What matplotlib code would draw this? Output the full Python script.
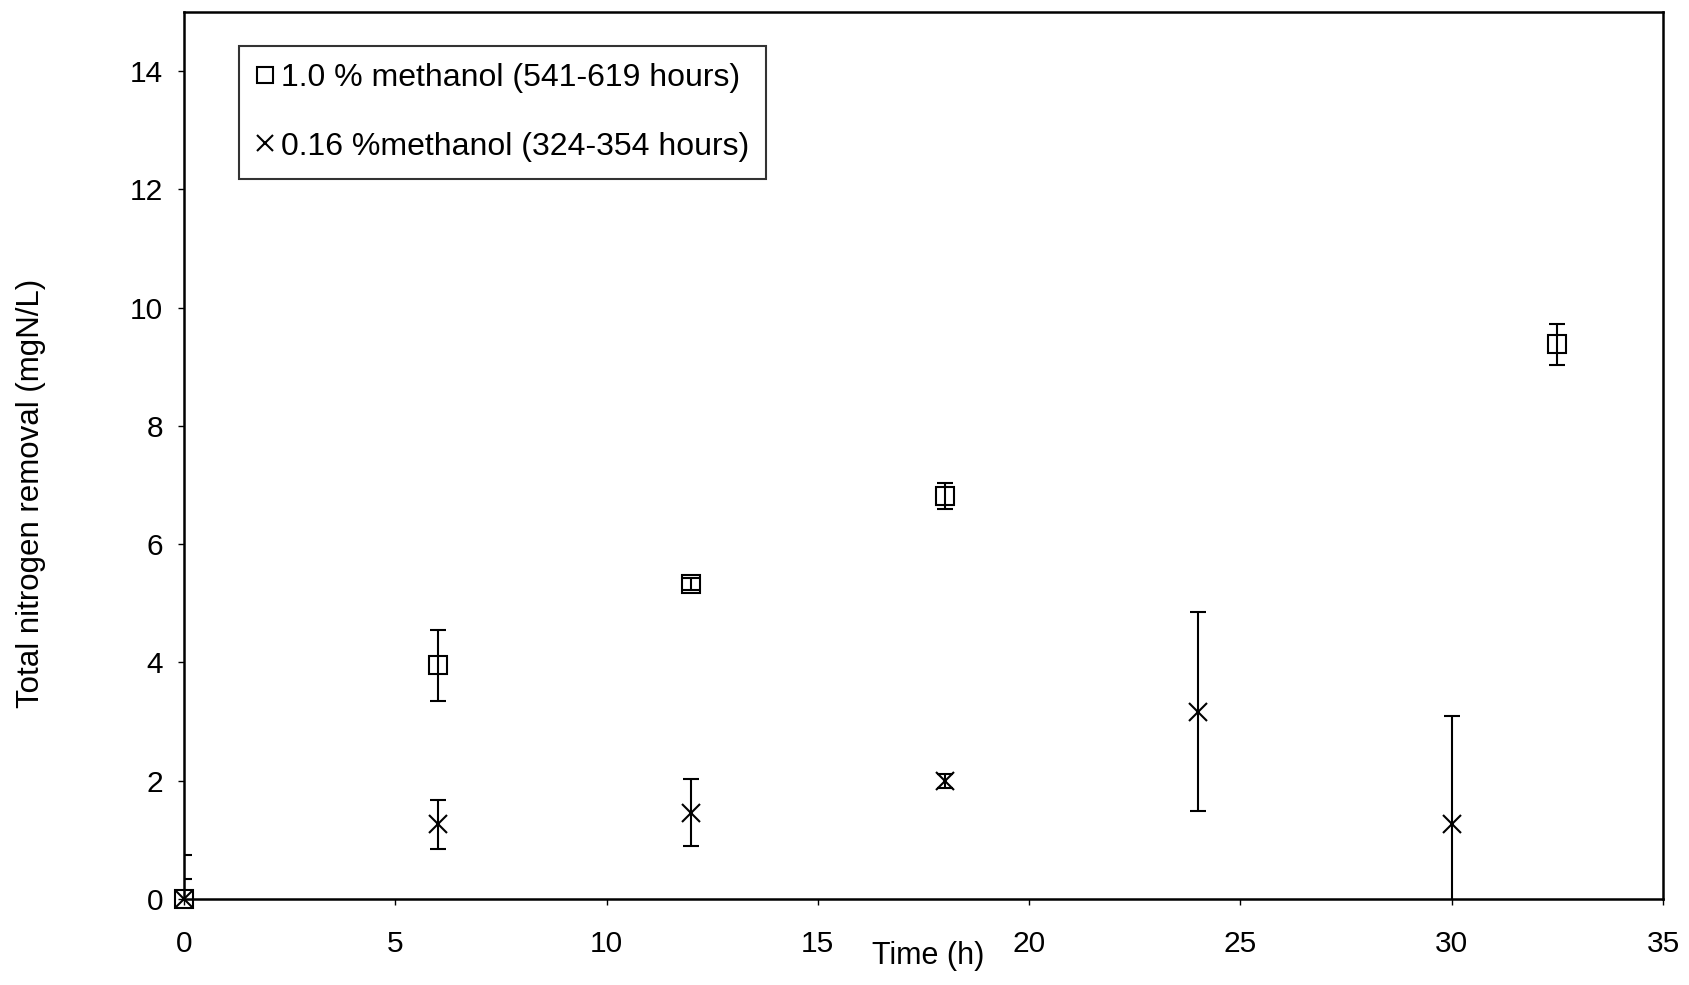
import matplotlib
matplotlib.use('Agg')
import matplotlib.pyplot as plt

plt.rcParams['font.family'] = ['Liberation Sans', 'DejaVu Sans']

# 1.0 % methanol series
t_high = [0, 6, 12, 18, 32.5]
n_high = [0.0, 3.95, 5.32, 6.81, 9.38]
err_high = [0.34, 0.6, 0.1, 0.22, 0.35]

# 0.16 % methanol series
t_low = [0, 6, 12, 18, 24, 30]
n_low = [0.0, 1.26, 1.46, 1.99, 3.17, 1.26]
err_low = [0.74, 0.42, 0.57, 0.12, 1.68, 1.84]

label_high = '1.0 % methanol (541-619 hours)'
label_low = '0.16 %methanol (324-354 hours)'

fig = plt.figure(figsize=(16.9, 9.85), dpi=100)
ax = fig.add_axes([184 / 1690, 1 - 899 / 985, 1479 / 1690, 887 / 985])

# error bars (clipped at the axes like the original)
ax.errorbar(t_high, n_high, yerr=err_high, fmt='none', ecolor='black',
            elinewidth=1.5, capsize=6, capthick=1.5)
ax.errorbar(t_low, n_low, yerr=err_low, fmt='none', ecolor='black',
            elinewidth=1.5, capsize=6, capthick=1.5)

# markers drawn on top, not clipped
h1, = ax.plot(t_high, n_high, linestyle='none', marker='s', markersize=13,
              markerfacecolor='none', markeredgecolor='black',
              markeredgewidth=1.5, clip_on=False, zorder=5)
h2, = ax.plot(t_low, n_low, linestyle='none', marker='x', markersize=13,
              color='black', markeredgewidth=1.5, clip_on=False, zorder=5)

ax.set_xlim(0, 35)
ax.set_ylim(0, 15)
ax.set_xticks(range(0, 36, 5))
ax.set_yticks(range(0, 15, 2))
ax.tick_params(direction='out', length=4, width=1, labelsize=21.5)
ax.tick_params(axis='x', pad=18)
ax.tick_params(axis='y', pad=11)

for s in ax.spines.values():
    s.set_linewidth(1.8)

ax.set_xlabel('Time (h)', fontsize=22)
ax.xaxis.set_label_coords(0.503, -0.047)
ax.set_ylabel('Total nitrogen removal (mgN/L)', fontsize=22.5)
ax.yaxis.set_label_coords(-0.093, 0.457)

leg = ax.legend([h1, h2], [label_high, label_low], loc='upper left',
                bbox_to_anchor=(0.0372, 0.962), borderaxespad=0,
                fontsize=23, frameon=True, fancybox=False,
                handlelength=0.55, handletextpad=0.2, labelspacing=1.2,
                borderpad=0.55, markerscale=0.9)
leg.get_frame().set_edgecolor('black')
leg.get_frame().set_linewidth(1.5)

plt.savefig('out.png', dpi=100)
